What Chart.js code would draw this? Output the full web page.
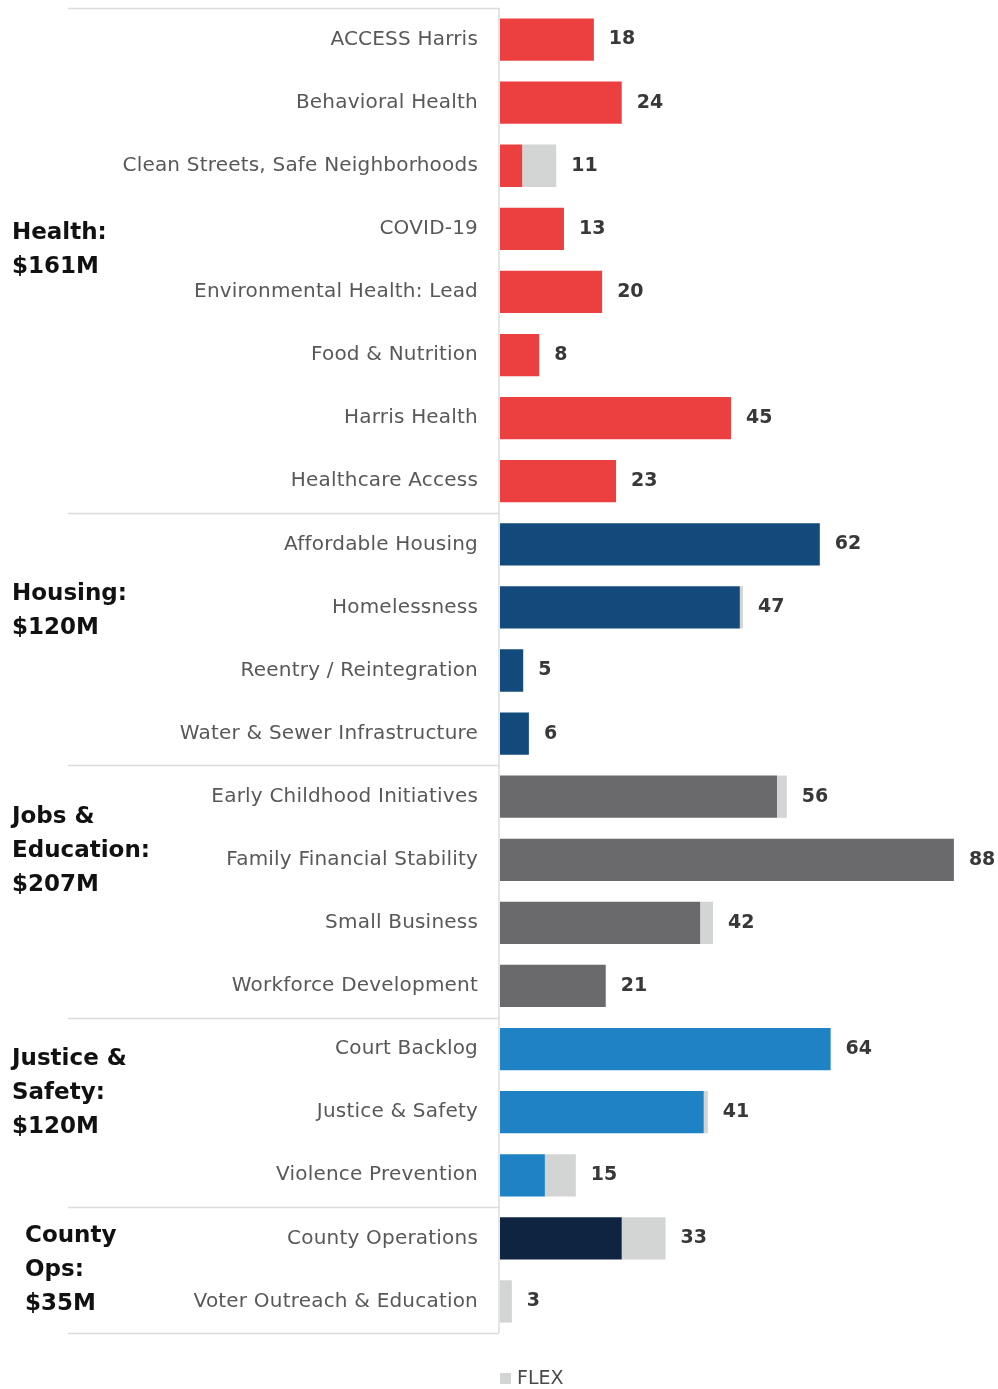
<!DOCTYPE html>
<html>
<head>
<meta charset="utf-8">
<script src="https://cdn.jsdelivr.net/npm/chart.js@4/dist/chart.umd.min.js"></script>
<style>
html,body{margin:0;padding:0;background:#fff;}
#wrap{position:relative;width:998px;height:1389px;}
</style>
</head>
<body>
<div id="wrap"><canvas id="c" width="998" height="1389"></canvas></div>
<script>
const categories = [
  "ACCESS Harris","Behavioral Health","Clean Streets, Safe Neighborhoods","COVID-19",
  "Environmental Health: Lead","Food & Nutrition","Harris Health","Healthcare Access",
  "Affordable Housing","Homelessness","Reentry / Reintegration","Water & Sewer Infrastructure",
  "Early Childhood Initiatives","Family Financial Stability","Small Business","Workforce Development",
  "Court Backlog","Justice & Safety","Violence Prevention",
  "County Operations","Voter Outreach & Education"
];
const categoryGroup = [0,0,0,0,0,0,0,0, 1,1,1,1, 2,2,2,2, 3,3,3, 4,4];
const mainValues = [18.2,23.6,4.3,12.4,19.8,7.6,44.8,22.5, 62.0,46.5,4.5,5.6, 53.7,88.0,38.8,20.5, 64.1,39.5,8.7, 23.6,0];
const flexValues = [0,0,6.6,0,0,0,0,0, 0,0.6,0,0, 1.9,0,2.5,0, 0,0.8,6.0, 8.5,2.3];
const totalLabels = ["18","24","11","13","20","8","45","23","62","47","5","6","56","88","42","21","64","41","15","33","3"];
const groupNames = [["Health:","$161M"],["Housing:","$120M"],["Jobs &","Education:","$207M"],["Justice &","Safety:","$120M"],["County","Ops:","$35M"]];
const groupColors = ["#EC4040","#134A7C","#6A6A6C","#1F82C4","#0E2440"];
const flexColor = "#D3D4D4";
const flexLabel = "FLEX";

// style: vertical anchor (in category-index units) of each group's label block, and its left inset
const groupLabelAnchor = [3.33, 9.06, 12.86, 16.7, 19.5];
const groupLabelInset = [12, 12, 12, 12, 25];

const spacing = {
  id: 'spacing',
  beforeDraw(chart) { chart.ctx.letterSpacing = '0.2px'; },
  afterDraw(chart) { chart.ctx.letterSpacing = '0px'; }
};

const overlay = {
  id: 'overlay',
  afterDraw(chart) {
    const ctx = chart.ctx;
    const y = chart.scales.y;
    const area = chart.chartArea;
    const n = categories.length;
    ctx.save();
    ctx.letterSpacing = '0px';
    ctx.strokeStyle = "#DCDCDC";
    ctx.lineWidth = 1.5;
    const bounds = [0];
    for (let i = 1; i < n; i++) if (categoryGroup[i] !== categoryGroup[i-1]) bounds.push(i);
    bounds.push(n);
    bounds.forEach(b => {
      const py = Math.round(y.getPixelForValue(b - 0.5)) + 0.5;
      ctx.beginPath(); ctx.moveTo(68, py); ctx.lineTo(area.left - 1, py); ctx.stroke();
    });
    ctx.beginPath();
    ctx.moveTo(area.left - 1, y.getPixelForValue(-0.5));
    ctx.lineTo(area.left - 1, y.getPixelForValue(n - 0.5));
    ctx.stroke();
    // group labels
    ctx.fillStyle = "#111";
    ctx.font = "bold 23px 'DejaVu Sans', sans-serif";
    ctx.textBaseline = "middle";
    ctx.textAlign = "left";
    for (let g = 0; g < groupNames.length; g++) {
      const cy = y.getPixelForValue(groupLabelAnchor[g]);
      const lines = groupNames[g];
      const lh = 34;
      lines.forEach((t, k) => {
        ctx.fillText(t, groupLabelInset[g], cy + (k - (lines.length - 1) / 2) * lh);
      });
    }
    // value labels
    const meta = chart.getDatasetMeta(1);
    ctx.fillStyle = "#383838";
    ctx.font = "bold 19px 'DejaVu Sans', sans-serif";
    meta.data.forEach((bar, i) => {
      ctx.fillText(totalLabels[i], bar.x + 15, bar.y);
    });
    // legend
    ctx.fillStyle = flexColor;
    ctx.fillRect(area.left, 1373, 11, 11);
    ctx.fillStyle = "#4a4a4a";
    ctx.font = "19px 'DejaVu Sans', sans-serif";
    ctx.fillText(flexLabel, area.left + 17, 1379);
    ctx.restore();
  }
};

new Chart(document.getElementById('c'), {
  type: 'bar',
  data: {
    labels: categories,
    datasets: [
      { label: "Main", data: mainValues, backgroundColor: categoryGroup.map(g => groupColors[g]), barPercentage: 0.67, categoryPercentage: 1.0 },
      { label: flexLabel, data: flexValues, backgroundColor: flexColor, barPercentage: 0.67, categoryPercentage: 1.0 }
    ]
  },
  options: {
    indexAxis: 'y',
    responsive: false,
    animation: false,
    layout: { padding: { top: 8, bottom: 56, left: 0, right: 8 } },
    plugins: { legend: { display: false }, tooltip: { enabled: false } },
    scales: {
      x: { stacked: true, display: false, min: 0, max: 95 },
      y: {
        stacked: true,
        grid: { display: false },
        border: { display: false },
        ticks: { color: "#585858", font: { family: "'DejaVu Sans', sans-serif", size: 20 }, padding: 14, autoSkip: false },
        afterFit(scale) { scale.width = 500; scale.paddingTop = 0; scale.paddingBottom = 0; }
      }
    }
  },
  plugins: [spacing, overlay]
});
</script>
</body>
</html>
